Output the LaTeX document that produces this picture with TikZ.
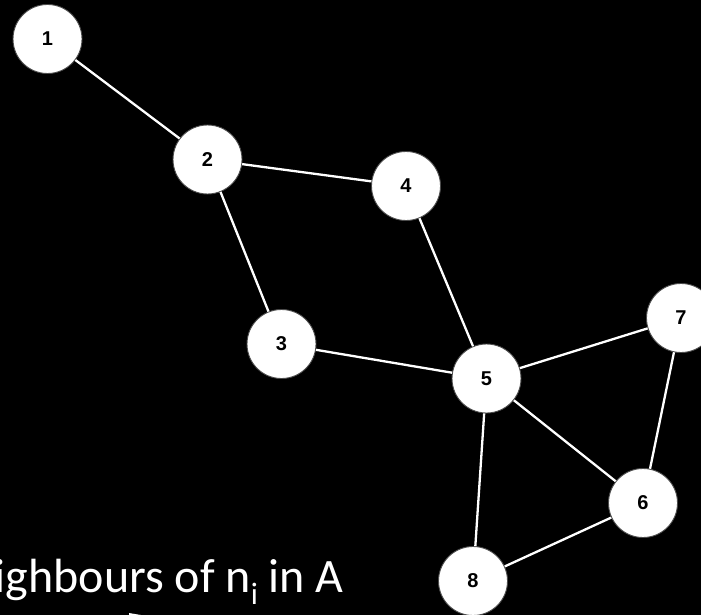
\documentclass[tikz,border=0pt]{standalone}
\usepackage{fontspec}
\setmainfont{Carlito}
\newfontfamily\labelfont{Liberation Sans}
\begin{document}
\begin{tikzpicture}[x=1pt,y=-1pt,
  vertex/.style={circle, fill=white, draw=black!70, line width=0.9pt,
    minimum size=69pt, inner sep=0pt,
    font=\labelfont\bfseries\fontsize{20}{20}\selectfont},
  link/.style={draw=white, line width=2.3pt}]
  % black canvas
  \fill[black] (0,0) rectangle (701,615);
  \useasboundingbox (0,0) rectangle (701,615);
  \clip (0,0) rectangle (701,615);

  % vertices
  \node[vertex] (n1) at (47.5,39) {1};
  \node[vertex] (n2) at (207.5,159.5) {2};
  \node[vertex] (n4) at (406,186) {4};
  \node[vertex] (n3) at (281.5,344) {3};
  \node[vertex] (n5) at (486.5,378.5) {5};
  \node[vertex] (n7) at (681,318) {7};
  \node[vertex] (n6) at (643,503) {6};
  \node[vertex] (n8) at (473,581) {8};

  % edges
  \path[link] (n1) -- (n2);
  \path[link] (n2) -- (n4);
  \path[link] (n2) -- (n3);
  \path[link] (n4) -- (n5);
  \path[link] (n3) -- (n5);
  \path[link] (n5) -- (n7);
  \path[link] (n5) -- (n6);
  \path[link] (n7) -- (n6);
  \path[link] (n5) -- (n8);
  \path[link] (n8) -- (n6);

  % caption, running off the left edge
  \node[anchor=base east, inner sep=0pt, text=white,
    font=\fontsize{48}{48}\selectfont] (cap) at (344,592)
    {Neighbours of n\raisebox{-0.26em}{\fontsize{31}{31}\selectfont i} in A};

  % arrow tip peeking in at the lower edge
  \coordinate (tipA) at (129,613);
  \fill[white] (tipA) -- (147,616) -- (147,625) -- (129,625) -- cycle;
\end{tikzpicture}
\end{document}
